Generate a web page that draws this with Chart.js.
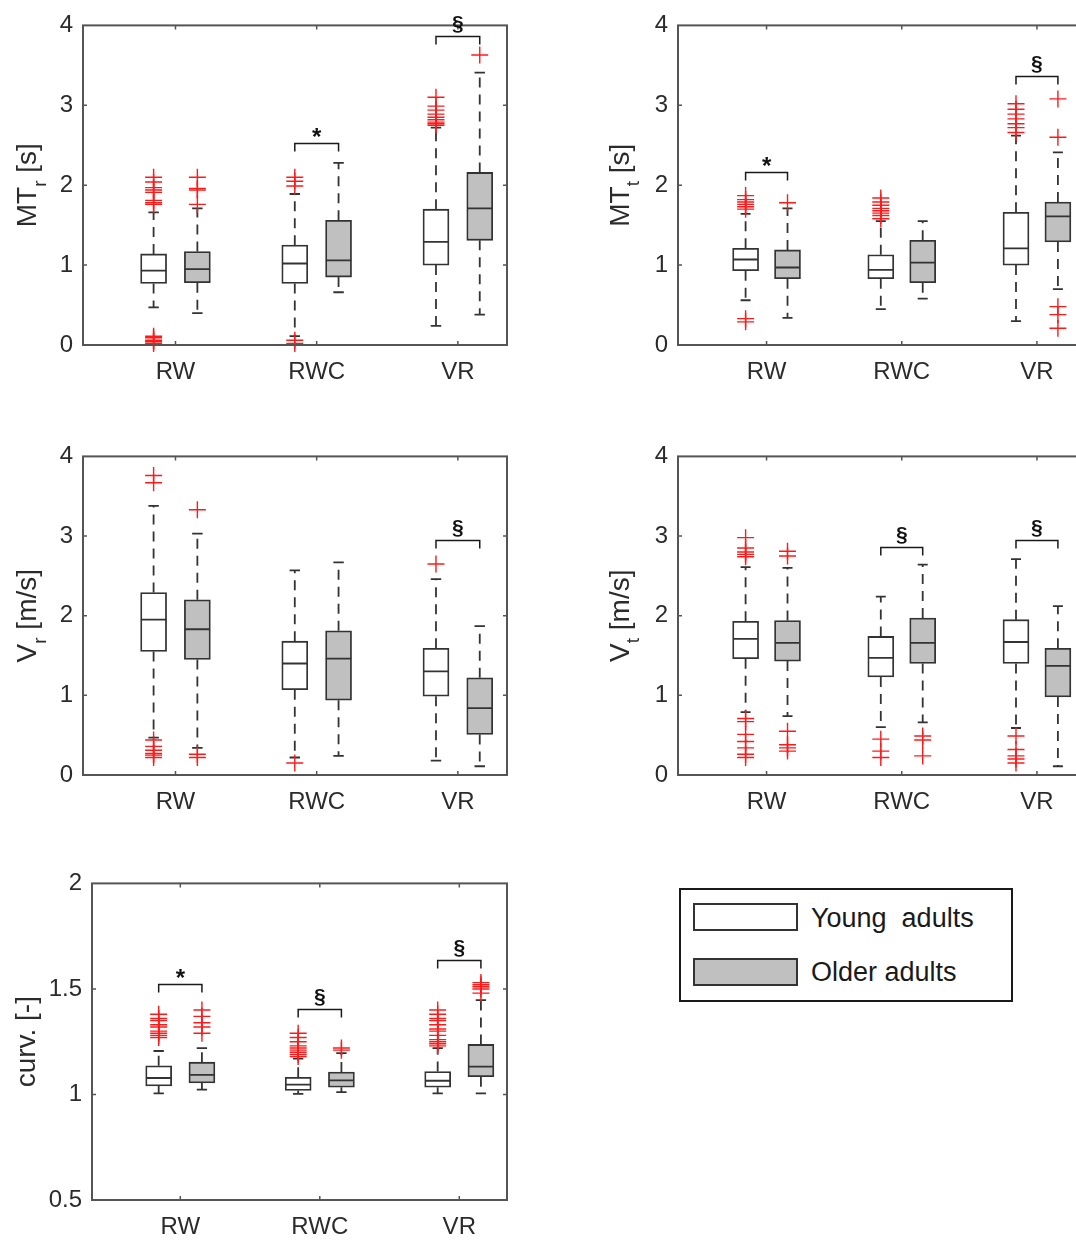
<!DOCTYPE html>
<html>
<head>
<meta charset="utf-8">
<title>Movement time, velocity and curvature by task and age group</title>
<script src="https://cdn.jsdelivr.net/npm/chart.js@4.4.1/dist/chart.umd.min.js"></script>
<style>
  html, body { margin: 0; padding: 0; background: #ffffff; overflow: hidden; width: 1076px; height: 1242px; }
  canvas { position: absolute; }
  #legend {
    position: absolute; left: 679px; top: 888px; width: 334px; height: 114px;
    box-sizing: border-box; border: 2px solid #1a1a1a; background: #fff;
    font-family: "Liberation Sans", Arial, sans-serif; font-size: 27px; color: #1a1a1a;
  }
  #legend .sw { position: absolute; left: 12px; width: 105px; height: 28px; box-sizing: border-box; border: 2px solid #333; }
  #legend .lt { position: absolute; left: 130px; line-height: 30px; white-space: pre; }
</style>
</head>
<body>
<canvas id="cMTr"></canvas>
<canvas id="cMTt"></canvas>
<canvas id="cVr"></canvas>
<canvas id="cVt"></canvas>
<canvas id="cCurv"></canvas>
<div id="legend">
  <div class="sw" id="swYoung" style="top:13px;"></div><div class="lt" id="ltYoung" style="top:13px;"></div>
  <div class="sw" id="swOlder" style="top:68px;"></div><div class="lt" id="ltOlder" style="top:67px;"></div>
</div>
<script>
// ---------- data ----------
const categories = ['RW', 'RWC', 'VR'];
const groupNames = ['Young  adults', 'Older adults'];

// box statistics per task: [lower whisker, Q1, median, Q3, upper whisker]
// MT_r [s]
const mtrYoung = [[0.47, 0.77, 0.93, 1.14, 1.66], [0.11, 0.77, 1.02, 1.25, 1.89], [0.24, 1.00, 1.29, 1.70, 2.72]];
const mtrOlder = [[0.40, 0.78, 0.95, 1.17, 1.71], [0.66, 0.85, 1.06, 1.56, 2.28], [0.38, 1.31, 1.71, 2.16, 3.41]];
const mtrYoungOut = [[2.10, 2.04, 1.97, 1.94, 1.91, 1.81, 1.78, 1.76, 0.11, 0.09, 0.06, 0.04, 0.02], [2.10, 2.05, 1.99, 0.06, 0.02], [3.10, 2.99, 2.94, 2.89, 2.85, 2.82, 2.79, 2.77, 2.75]];
const mtrOlderOut = [[2.10, 1.96, 1.94, 1.76], [], [3.63]];
const mtrSigMark = ['', '*', '§'];
const mtrSigLevel = [null, 2.53, 3.87];

// MT_t [s]
const mttYoung = [[0.56, 0.93, 1.07, 1.21, 1.64], [0.45, 0.83, 0.94, 1.13, 1.55], [0.30, 1.00, 1.21, 1.66, 2.62]];
const mttOlder = [[0.34, 0.83, 0.97, 1.19, 1.71], [0.58, 0.78, 1.03, 1.31, 1.55], [0.70, 1.29, 1.61, 1.79, 2.41]];
const mttYoungOut = [[1.87, 1.82, 1.79, 1.76, 1.73, 1.70, 0.33, 0.29], [1.84, 1.79, 1.75, 1.71, 1.68, 1.65, 1.62, 1.58], [3.02, 2.95, 2.89, 2.83, 2.77, 2.72, 2.66]];
const mttOlderOut = [[1.78], [], [3.08, 2.60, 0.48, 0.38, 0.21]];
const mttSigMark = ['*', '', '§'];
const mttSigLevel = [2.17, null, 3.37];

// V_r [m/s]
const vrYoung = [[0.47, 1.55, 1.95, 2.29, 3.38], [0.22, 1.07, 1.40, 1.68, 2.57], [0.18, 0.99, 1.30, 1.59, 2.46]];
const vrOlder = [[0.34, 1.45, 1.83, 2.20, 3.03], [0.24, 0.94, 1.46, 1.81, 2.67], [0.11, 0.51, 0.84, 1.22, 1.87]];
const vrYoungOut = [[3.76, 3.67, 0.44, 0.36, 0.31, 0.27, 0.25, 0.22], [0.15], [2.65]];
const vrOlderOut = [[3.33, 0.26, 0.22], [], []];
const vrSigMark = ['', '', '§'];
const vrSigLevel = [null, null, 2.95];

// V_t [m/s]
const vtYoung = [[0.79, 1.46, 1.71, 1.93, 2.61], [0.60, 1.23, 1.47, 1.74, 2.24], [0.59, 1.40, 1.67, 1.95, 2.71]];
const vtOlder = [[0.74, 1.43, 1.66, 1.94, 2.60], [0.66, 1.40, 1.66, 1.97, 2.64], [0.11, 0.98, 1.37, 1.59, 2.12]];
const vtYoungOut = [[2.98, 2.85, 2.80, 2.77, 2.74, 0.71, 0.67, 0.51, 0.42, 0.34, 0.26, 0.22], [0.45, 0.30, 0.22], [0.49, 0.32, 0.24, 0.20, 0.15]];
const vtOlderOut = [[2.81, 2.75, 0.55, 0.38, 0.34, 0.30], [0.49, 0.44, 0.24], []];
const vtSigMark = ['', '§', '§'];
const vtSigLevel = [null, 2.86, 2.95];

// curvature [-]
const curvYoung = [[1.005, 1.040, 1.078, 1.136, 1.206], [1.003, 1.019, 1.047, 1.081, 1.170], [1.005, 1.034, 1.065, 1.109, 1.220]];
const curvOlder = [[1.023, 1.055, 1.093, 1.153, 1.220], [1.011, 1.034, 1.067, 1.106, 1.196], [1.005, 1.084, 1.132, 1.237, 1.447]];
const curvYoungOut = [[1.38, 1.36, 1.35, 1.33, 1.32, 1.30, 1.29, 1.28, 1.27], [1.29, 1.27, 1.25, 1.23, 1.22, 1.21, 1.20, 1.19, 1.18], [1.40, 1.38, 1.36, 1.35, 1.33, 1.31, 1.30, 1.28, 1.26, 1.25, 1.24, 1.23]];
const curvOlderOut = [[1.40, 1.37, 1.34, 1.32, 1.29], [1.22, 1.21], [1.53, 1.52, 1.51, 1.50, 1.48]];
const curvSigMark = ['*', '§', '§'];
const curvSigLevel = [1.525, 1.405, 1.639];

// y-axis tick values
const ticks0to4 = [0, 1, 2, 3, 4];
const ticksCurv = [0.5, 1, 1.5, 2];

// ---------- styling ----------
const FONT = '"Liberation Sans", Arial, Helvetica, sans-serif';
const TEXT = '#2b2b2b';
const FRAME = '#555555';
const BOX_LINE = '#333333';
const YOUNG_FILL = '#ffffff';
const OLDER_FILL = '#c0c0c0';
const OUTLIER = '#ff1a1a';
const OFF = 0.155;      // half distance between the two boxes of a task (x units)
const MED_HALF = 0.09;  // half box width for the median line (x units)
const CAP_HALF = 0.037; // half whisker-cap width (x units)

document.getElementById('swYoung').style.background = YOUNG_FILL;
document.getElementById('swOlder').style.background = OLDER_FILL;
document.getElementById('ltYoung').textContent = groupNames[0];
document.getElementById('ltOlder').textContent = groupNames[1];

// ---------- dataset builders ----------
function boxData(stats, side) {
  return stats.map((s, i) => ({ x: i + 1 + side * OFF, y: [s[1], s[3]] }));
}
function whiskerData(stats, side) {
  const pts = [];
  stats.forEach((s, i) => {
    const x = i + 1 + side * OFF;
    pts.push({ x, y: s[3] }, { x, y: s[4] }, { x, y: null });
    pts.push({ x, y: s[1] }, { x, y: s[0] }, { x, y: null });
  });
  return pts;
}
function capMedianData(stats, side) {
  const pts = [];
  stats.forEach((s, i) => {
    const x = i + 1 + side * OFF;
    pts.push({ x: x - CAP_HALF, y: s[0] }, { x: x + CAP_HALF, y: s[0] }, { x, y: null });
    pts.push({ x: x - CAP_HALF, y: s[4] }, { x: x + CAP_HALF, y: s[4] }, { x, y: null });
    pts.push({ x: x - MED_HALF, y: s[2] }, { x: x + MED_HALF, y: s[2] }, { x, y: null });
  });
  return pts;
}
function outlierData(outs, side) {
  const pts = [];
  outs.forEach((list, i) => list.forEach(v => pts.push({ x: i + 1 + side * OFF, y: v })));
  return pts;
}

// frame, inward tick marks, significance brackets and the y-axis title
const panelDecor = {
  id: 'panelDecor',
  afterDatasetsDraw(chart, args, o) {
    const { ctx, chartArea: ca } = chart;
    const xs = chart.scales.x, ys = chart.scales.y;
    ctx.save();
    ctx.strokeStyle = FRAME;
    ctx.lineWidth = 2;
    ctx.strokeRect(ca.left, ca.top, ca.right - ca.left, ca.bottom - ca.top);
    ctx.lineWidth = 1.5;
    ctx.beginPath();
    xs.ticks.forEach(t => {
      const px = xs.getPixelForValue(t.value);
      ctx.moveTo(px, ca.bottom); ctx.lineTo(px, ca.bottom - 4);
      ctx.moveTo(px, ca.top); ctx.lineTo(px, ca.top + 4);
    });
    ys.ticks.forEach(t => {
      const py = ys.getPixelForValue(t.value);
      if (py <= ca.top + 1 || py >= ca.bottom - 1) return;
      ctx.moveTo(ca.left, py); ctx.lineTo(ca.left + 4, py);
      ctx.moveTo(ca.right, py); ctx.lineTo(ca.right - 4, py);
    });
    ctx.stroke();

    // significance brackets
    ctx.strokeStyle = '#1a1a1a';
    ctx.fillStyle = '#111111';
    ctx.lineWidth = 1.5;
    o.marks.forEach((m, i) => {
      if (!m) return;
      const x1 = xs.getPixelForValue(i + 1 - OFF);
      const x2 = xs.getPixelForValue(i + 1 + OFF);
      const py = Math.round(ys.getPixelForValue(o.levels[i])) + 0.5;
      ctx.beginPath();
      ctx.moveTo(x1, py + 8); ctx.lineTo(x1, py); ctx.lineTo(x2, py); ctx.lineTo(x2, py + 8);
      ctx.stroke();
      ctx.textAlign = 'center';
      ctx.textBaseline = 'alphabetic';
      if (m === '*') {
        ctx.font = 'bold 24px ' + FONT;
        ctx.fillText(m, (x1 + x2) / 2, py + 1);
      } else {
        ctx.font = 'bold 21px ' + FONT;
        ctx.fillText(m, (x1 + x2) / 2, py - 7);
      }
    });

    // rotated y-axis title with optional subscript
    const [main, sub, rest] = o.title;
    const mainFont = '28px ' + FONT, subFont = '19px ' + FONT;
    ctx.font = mainFont; const w1 = ctx.measureText(main).width; const w3 = ctx.measureText(rest).width;
    ctx.font = subFont; const w2 = sub ? ctx.measureText(sub).width : 0;
    const total = w1 + w2 + w3;
    ctx.translate(ca.left - o.titleOffset, (ca.top + ca.bottom) / 2);
    ctx.rotate(-Math.PI / 2);
    ctx.fillStyle = TEXT;
    ctx.textAlign = 'left';
    ctx.textBaseline = 'alphabetic';
    let cx = -total / 2;
    ctx.font = mainFont; ctx.fillText(main, cx, 0); cx += w1;
    if (sub) { ctx.font = subFont; ctx.fillText(sub, cx, 10); cx += w2; }
    ctx.font = mainFont; ctx.fillText(rest, cx, 0);
    ctx.restore();
  }
};

const LEFT_M = 83, TOP_M = 20, RIGHT_M = 20, X_AXIS_H = 50;

function makePanel(spec) {
  const canvas = document.getElementById(spec.id);
  const W = spec.area.r - spec.area.l + LEFT_M + RIGHT_M;
  const H = spec.area.b - spec.area.t + TOP_M + X_AXIS_H;
  canvas.width = W; canvas.height = H;
  canvas.style.left = (spec.area.l - LEFT_M) + 'px';
  canvas.style.top = (spec.area.t - TOP_M) + 'px';
  canvas.style.width = W + 'px'; canvas.style.height = H + 'px';

  const lineCommon = { pointRadius: 0, pointHoverRadius: 0, borderWidth: 1.8, borderColor: BOX_LINE, spanGaps: false, fill: false, tension: 0, clip: false };
  const datasets = [
    { type: 'bar', label: groupNames[0], stack: 'boxes', order: 5, data: boxData(spec.young, -1), backgroundColor: YOUNG_FILL, borderColor: BOX_LINE, borderWidth: 1.8, borderSkipped: false, barThickness: 26 },
    { type: 'bar', label: groupNames[1], stack: 'boxes', order: 5, data: boxData(spec.older, 1), backgroundColor: OLDER_FILL, borderColor: BOX_LINE, borderWidth: 1.8, borderSkipped: false, barThickness: 26 },
    Object.assign({ type: 'line', label: 'whiskers young', order: 4, data: whiskerData(spec.young, -1), borderDash: [10, 7] }, lineCommon),
    Object.assign({ type: 'line', label: 'whiskers older', order: 4, data: whiskerData(spec.older, 1), borderDash: [10, 7] }, lineCommon),
    Object.assign({ type: 'line', label: 'caps young', order: 3, data: capMedianData(spec.young, -1) }, lineCommon),
    Object.assign({ type: 'line', label: 'caps older', order: 3, data: capMedianData(spec.older, 1) }, lineCommon),
    { type: 'scatter', label: 'outliers young', order: 1, data: outlierData(spec.youngOut, -1), pointStyle: 'cross', pointRadius: 8.5, pointHoverRadius: 8.5, pointBorderColor: OUTLIER, pointBorderWidth: 1.4, borderColor: OUTLIER, clip: false },
    { type: 'scatter', label: 'outliers older', order: 1, data: outlierData(spec.olderOut, 1), pointStyle: 'cross', pointRadius: 8.5, pointHoverRadius: 8.5, pointBorderColor: OUTLIER, pointBorderWidth: 1.4, borderColor: OUTLIER, clip: false }
  ];

  const yT = spec.yTicks;
  return new Chart(canvas, {
    type: 'bar',
    data: { datasets },
    options: {
      responsive: false,
      animation: false,
      events: [],
      devicePixelRatio: 1,
      layout: { padding: { left: 0, top: TOP_M, right: RIGHT_M, bottom: 0 } },
      plugins: {
        legend: { display: false },
        tooltip: { enabled: false },
        panelDecor: { marks: spec.sigMark, levels: spec.sigLevel, title: spec.title, titleOffset: spec.titleOffset }
      },
      scales: {
        x: {
          type: 'linear', offset: false, min: spec.xMin, max: spec.xMax,
          grid: { display: false, drawTicks: false }, border: { display: false },
          afterBuildTicks: s => { s.ticks = categories.map((c, i) => ({ value: i + 1 })); },
          afterFit: s => { s.height = X_AXIS_H; },
          ticks: {
            autoSkip: false, maxRotation: 0, padding: 13, color: TEXT,
            font: { family: FONT, size: 24 },
            callback: v => categories[Math.round(v) - 1]
          }
        },
        y: {
          type: 'linear', stacked: false, min: yT[0], max: yT[yT.length - 1],
          grid: { display: false, drawTicks: false }, border: { display: false },
          afterBuildTicks: s => { s.ticks = yT.map(v => ({ value: v })); },
          afterFit: s => { s.width = LEFT_M; },
          ticks: { padding: 10, color: TEXT, font: { family: FONT, size: 24 }, callback: v => String(v) }
        }
      }
    },
    plugins: [panelDecor]
  });
}

const panelSpecs = [
  { id: 'cMTr', young: mtrYoung, older: mtrOlder, youngOut: mtrYoungOut, olderOut: mtrOlderOut, sigMark: mtrSigMark, sigLevel: mtrSigLevel,
    yTicks: ticks0to4, title: ['MT', 'r', ' [s]'], titleOffset: 47, area: { l: 83, r: 507, t: 21, b: 345 }, xMin: 0.345, xMax: 3.348 },
  { id: 'cMTt', young: mttYoung, older: mttOlder, youngOut: mttYoungOut, olderOut: mttOlderOut, sigMark: mttSigMark, sigLevel: mttSigLevel,
    yTicks: ticks0to4, title: ['MT', 't', ' [s]'], titleOffset: 49, area: { l: 678, r: 1084, t: 21, b: 345 }, xMin: 0.345, xMax: 3.348 },
  { id: 'cVr', young: vrYoung, older: vrOlder, youngOut: vrYoungOut, olderOut: vrOlderOut, sigMark: vrSigMark, sigLevel: vrSigLevel,
    yTicks: ticks0to4, title: ['V', 'r', ' [m/s]'], titleOffset: 47, area: { l: 83, r: 507, t: 452, b: 775 }, xMin: 0.345, xMax: 3.348 },
  { id: 'cVt', young: vtYoung, older: vtOlder, youngOut: vtYoungOut, olderOut: vtOlderOut, sigMark: vtSigMark, sigLevel: vtSigLevel,
    yTicks: ticks0to4, title: ['V', 't', ' [m/s]'], titleOffset: 49, area: { l: 678, r: 1084, t: 452, b: 775 }, xMin: 0.345, xMax: 3.348 },
  { id: 'cCurv', young: curvYoung, older: curvOlder, youngOut: curvYoungOut, olderOut: curvOlderOut, sigMark: curvSigMark, sigLevel: curvSigLevel,
    yTicks: ticksCurv, title: ['curv. [-]', '', ''], titleOffset: 57, area: { l: 92, r: 507, t: 879, b: 1200 }, xMin: 0.367, xMax: 3.342 }
];

panelSpecs.forEach(makePanel);
</script>
</body>
</html>
